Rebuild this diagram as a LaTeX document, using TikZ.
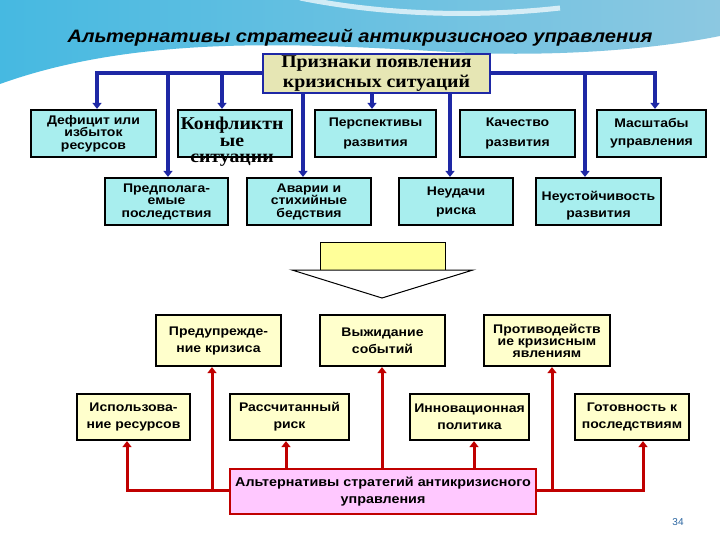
\documentclass[tikz,border=0pt]{standalone}
\usepackage{fontspec}
\setmainfont{Liberation Sans}
\newfontfamily\seriffont{Liberation Serif}[FakeStretch=1.1]
\newfontfamily\wideb{Liberation Sans}[FakeStretch=1.12]
\usetikzlibrary{arrows.meta,calc}
\definecolor{bline}{RGB}{30,40,165}
\definecolor{rline}{RGB}{192,0,0}
\definecolor{cyanbox}{RGB}{168,238,238}
\definecolor{topbox}{RGB}{230,230,180}
\definecolor{ybox}{RGB}{255,255,204}
\definecolor{yarrow}{RGB}{255,255,153}
\definecolor{pinkbox}{RGB}{255,200,255}
\definecolor{skyA}{RGB}{70,185,225}
\definecolor{skyB}{RGB}{140,200,225}
\definecolor{pagenum}{RGB}{40,100,160}
\begin{document}
\begin{tikzpicture}[x=1pt,y=-1pt,
  bx/.style={draw=black,line width=2.2pt,inner sep=1pt,align=center,font=\wideb\bfseries\fontsize{12.5}{12.5}\selectfont},
  cbx/.style={bx,fill=cyanbox},
  ybx/.style={bx,fill=ybox,font=\wideb\bfseries\fontsize{12.5}{17}\selectfont},
  barrow/.style={draw=bline,line width=3.2pt,-{Triangle[width=9pt,length=6pt]}},
  rarrow/.style={draw=rline,line width=3pt,-{Triangle[width=9pt,length=6pt]}}]
\useasboundingbox (0,0) rectangle (720,540);
\fill[white] (0,0) rectangle (720,540);
% background swoosh
\shade[left color=skyA,right color=skyB] (0,0) -- (720,0) -- (720,36)
  .. controls (650,50) and (560,56) .. (470,53)
  .. controls (330,46) and (150,30) .. (0,84) -- cycle;
\draw[white,line width=5pt,opacity=0.7] (300,-2) .. controls (380,14) and (470,18) .. (560,8);
% title
\node[font=\wideb\bfseries\itshape\fontsize{18}{20}\selectfont] (title) at (360,38) {Альтернативы стратегий антикризисного управления};
% top box
\node[draw=bline,line width=2.2pt,fill=topbox,minimum width=227,minimum height=39,inner sep=0,align=center,
  font=\seriffont\bfseries\fontsize{18}{20}\selectfont] (top) at (376.5,73.5) {Признаки появления\\кризисных ситуаций};
% row 1
\node[cbx,minimum width=125,minimum height=47] (def) at (93.5,133.5) {Дефицит или\\избыток\\ресурсов};
\node[cbx,minimum width=114,minimum height=47] (konf) at (235,133.5) {};
\node[font=\seriffont\bfseries\fontsize{18}{16.5}\selectfont,align=center,inner sep=0] (konft) at (232,142) {Конфликтн\\ые\\ситуации};
\node[cbx,minimum width=121,minimum height=47,font=\wideb\bfseries\fontsize{12.5}{20}\selectfont] (persp) at (375.5,133.5) {Перспективы\\развития};
\node[cbx,minimum width=115,minimum height=47,font=\wideb\bfseries\fontsize{12.5}{20}\selectfont] (kach) at (517.5,133.5) {Качество\\развития};
\node[cbx,minimum width=109,minimum height=47,font=\wideb\bfseries\fontsize{12.5}{18}\selectfont] (masht) at (651.5,133.5) {Масштабы\\управления};
% row 2
\node[cbx,minimum width=123,minimum height=47] (predp) at (166.5,201.5) {Предполага-\\емые\\последствия};
\node[cbx,minimum width=124,minimum height=47] (avar) at (309,201.5) {Аварии и\\стихийные\\бедствия};
\node[cbx,minimum width=114,minimum height=47,font=\wideb\bfseries\fontsize{12.5}{19}\selectfont] (neud) at (456,201.5) {Неудачи\\риска};
\node[cbx,minimum width=125,minimum height=47,font=\wideb\bfseries\fontsize{12.5}{17}\selectfont] (neust) at (598.5,201.5) {\raisebox{-4pt}[\height][\depth]{\begin{tabular}{@{}c@{}}Неустойчивость\\развития\end{tabular}}};
% blue connectors
\coordinate (jL) at (168,73);
\coordinate (jL2) at (222,73);
\coordinate (jR) at (585,73);
\coordinate (b1) at (303,93);
\coordinate (b2) at (372,93);
\coordinate (b3) at (450,93);
\draw[barrow] (top.west |- jL) -| ($(def.north)+(3.5,0)$);
\draw[barrow] (jL) -- (jL |- predp.north);
\draw[barrow] (jL2) -- (jL2 |- konf.north);
\draw[barrow] (top.east |- jR) -| ($(masht.north)+(3.5,0)$);
\draw[barrow] (jR) -- (jR |- neust.north);
\draw[barrow] (b1) -- (b1 |- avar.north);
\draw[barrow] (b2) -- (b2 |- persp.north);
\draw[barrow] (b3) -- (b3 |- neud.north);
% big arrow
\node[draw=black,line width=1pt,fill=yarrow,minimum width=125,minimum height=28,inner sep=0] (yb) at (382.5,256) {};
\draw[line width=1pt,fill=white] (292,270) -- (473,270) -- (382,298) -- cycle;
% row 3
\node[ybx,minimum width=125,minimum height=51] (prev) at (218.5,340.5) {Предупрежде-\\ние кризиса};
\node[ybx,minimum width=125,minimum height=51] (wait) at (382.5,340.5) {Выжидание\\событий};
\node[ybx,minimum width=126,minimum height=51,font=\wideb\bfseries\fontsize{12.5}{12}\selectfont] (prot) at (547,340.5) {Противодейств\\ие кризисным\\явлениям};
% row 4
\node[ybx,minimum width=113,minimum height=46] (use) at (133.5,417) {Использова-\\ние ресурсов};
\node[ybx,minimum width=119,minimum height=46] (risk) at (289.5,417) {Рассчитанный\\риск};
\node[ybx,minimum width=119,minimum height=46] (innov) at (469.5,417) {Инновационная\\политика};
\node[ybx,minimum width=114,minimum height=46] (ready) at (632,417) {Готовность к\\последствиям};
% pink box
\node[bx,fill=pinkbox,draw=rline,line width=1.8pt,minimum width=306,minimum height=45,font=\wideb\bfseries\fontsize{12.8}{17}\selectfont] (alt) at (383,491.5) {Альтернативы стратегий антикризисного\\управления};
% red connectors
\coordinate (rl) at (212,490);
\coordinate (rr) at (552,490);
\coordinate (u1) at (286,469);
\coordinate (u2) at (382,469);
\coordinate (u3) at (474,469);
\draw[rarrow] (alt.west |- rl) -| ($(use.south)+(-6.5,0)$);
\draw[rarrow] (rl) -- (rl |- prev.south);
\draw[rarrow] (alt.east |- rr) -| ($(ready.south)+(11,0)$);
\draw[rarrow] (rr) -- (rr |- prot.south);
\draw[rarrow] (u1) -- (u1 |- risk.south);
\draw[rarrow] (u2) -- (u2 |- wait.south);
\draw[rarrow] (u3) -- (u3 |- innov.south);
% page number
\node[text=pagenum,font=\fontsize{10}{12}\selectfont] (pg) at (678,522) {34};
\end{tikzpicture}
\end{document}
